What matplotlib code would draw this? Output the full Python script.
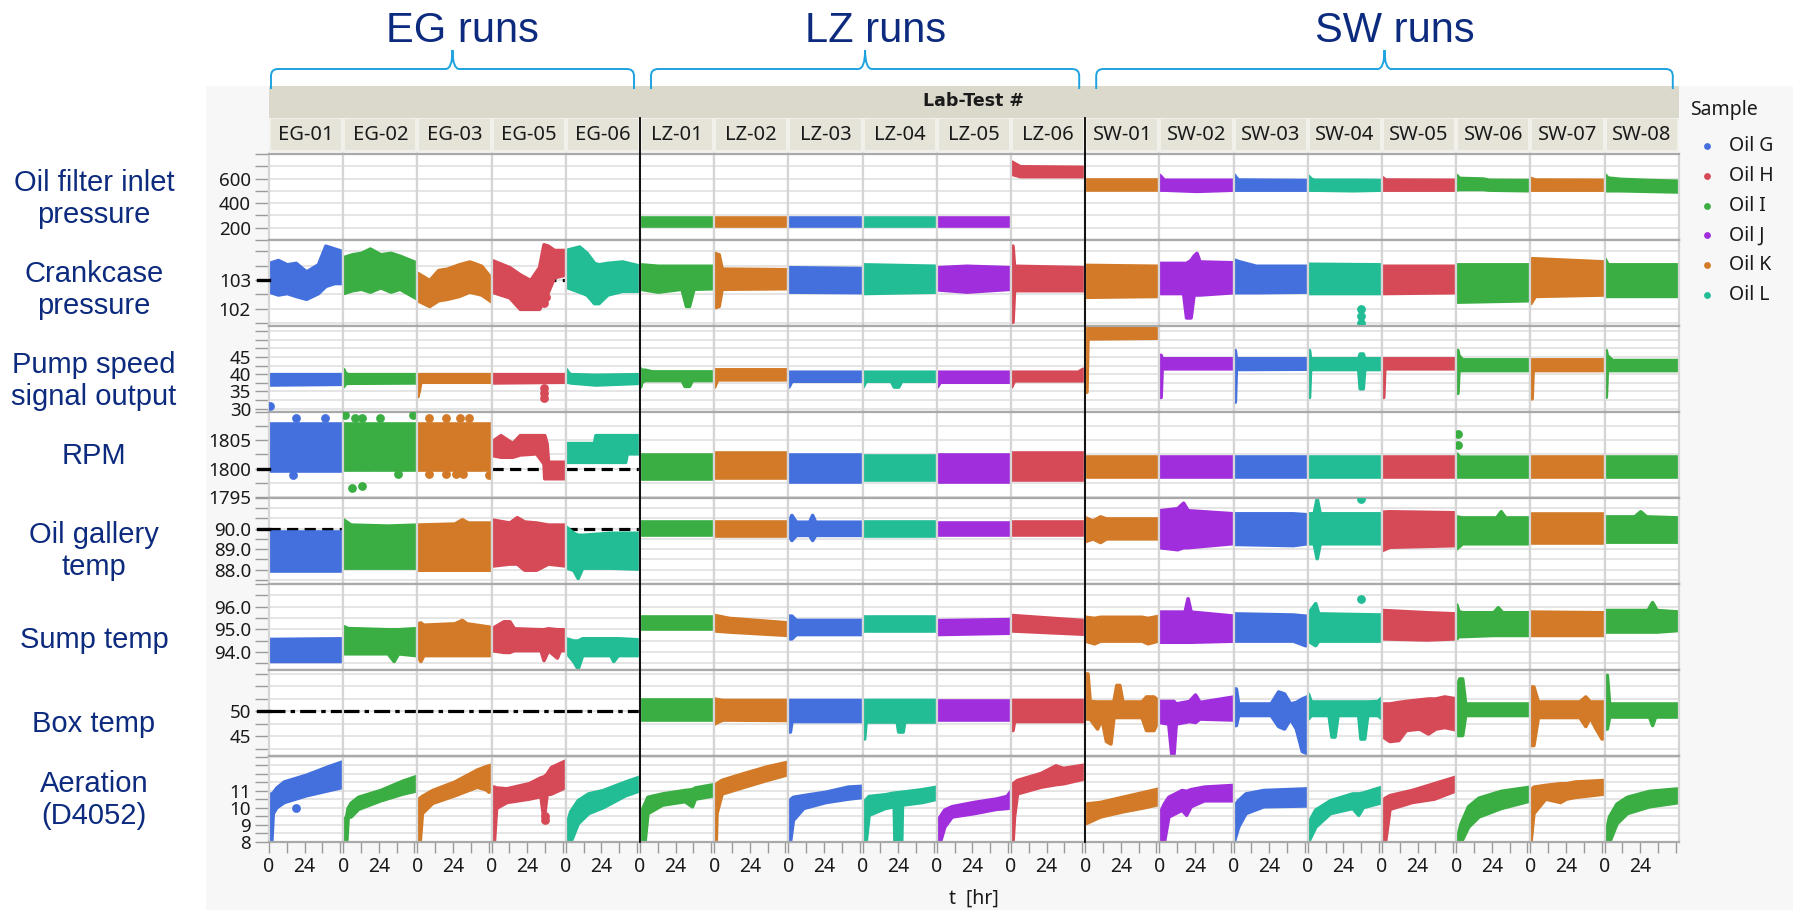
import matplotlib
matplotlib.use("Agg")
import matplotlib.pyplot as plt
from matplotlib.patches import Rectangle, PathPatch
from matplotlib.path import Path
from matplotlib.ticker import MultipleLocator, FuncFormatter

# === data ===
RUNS = ["EG-01", "EG-02", "EG-03", "EG-05", "EG-06",
        "LZ-01", "LZ-02", "LZ-03", "LZ-04", "LZ-05", "LZ-06",
        "SW-01", "SW-02", "SW-03", "SW-04", "SW-05", "SW-06", "SW-07", "SW-08"]
RUN_OILS = ["G", "I", "K", "H", "L",
            "I", "K", "G", "L", "J", "H",
            "K", "J", "G", "L", "H", "I", "K", "I"]
OIL_NAMES = ["Oil G", "Oil H", "Oil I", "Oil J", "Oil K", "Oil L"]
GROUPS = ["EG runs", "LZ runs", "SW runs"]
GROUP_SIZES = [5, 6, 8]
ROW_LABELS = ["Oil filter inlet\npressure", "Crankcase\npressure",
              "Pump speed\nsignal output", "RPM", "Oil gallery\ntemp",
              "Sump temp", "Box temp", "Aeration\n(D4052)"]

# each run: list of (t [hr], low, high) envelope knots of the point cloud
FILTER = [
    None, None, None, None, None,
    [(0, 215, 280), (50, 215, 280)],
    [(0, 215, 280), (50, 215, 280)],
    [(0, 215, 280), (50, 215, 280)],
    [(0, 215, 280), (50, 215, 280)],
    [(0, 215, 280), (50, 215, 280)],
    [(0, 640, 740), (3, 630, 720), (6, 620, 700), (50, 620, 695)],
    [(0, 510, 590), (50, 510, 590)],
    [(0, 510, 630), (1.5, 510, 610), (3, 510, 590), (25, 500, 590), (50, 510, 590)],
    [(0, 510, 635), (1.5, 510, 610), (3, 510, 592), (50, 510, 588)],
    [(0, 510, 625), (2, 510, 600), (4, 510, 590), (30, 505, 590), (50, 510, 588)],
    [(0, 510, 612), (2, 510, 592), (50, 510, 590)],
    [(0, 512, 630), (2, 515, 605), (18, 515, 600), (22, 510, 590), (50, 505, 588)],
    [(0, 510, 605), (3, 510, 592), (50, 510, 590)],
    [(0, 505, 635), (2, 505, 608), (10, 505, 598), (30, 500, 588), (50, 495, 582)],
]
FILTER_OUT = []

CRANKCASE = [
    [(0, 102.6, 103.6), (6, 102.5, 103.7), (12, 102.55, 103.55), (18, 102.45, 103.6),
     (25, 102.35, 103.3), (33, 102.55, 103.55), (38, 102.8, 104.2), (44, 102.9, 104.1),
     (50, 102.9, 104.0)],
    [(0, 102.55, 103.8), (6, 102.65, 103.9), (12, 102.7, 103.95), (18, 102.6, 104.1),
     (25, 102.75, 103.9), (32, 102.6, 103.95), (38, 102.7, 103.85), (50, 102.35, 103.6)],
    [(0, 102.3, 103.25), (8, 102.1, 103.0), (14, 102.3, 103.35), (20, 102.35, 103.4),
     (28, 102.45, 103.55), (35, 102.6, 103.65), (43, 102.5, 103.5), (50, 102.25, 103.05)],
    [(0, 102.6, 103.7), (12, 102.4, 103.45), (19, 102.0, 103.2), (26, 102.0, 103.0),
     (32, 102.0, 103.45), (35, 102.3, 104.25), (38, 102.6, 104.2), (42, 103.1, 104.05),
     (50, 103.2, 104.05)],
    [(0, 102.77, 104.05), (9, 102.6, 104.17), (14, 102.5, 103.95), (19, 102.2, 103.6),
     (22, 102.2, 103.55), (28, 102.5, 103.6), (38, 102.63, 103.65), (50, 102.63, 103.5)],
    [(0, 102.7, 103.55), (12, 102.6, 103.5), (28, 102.7, 103.5), (31, 102.1, 103.5),
     (33, 102.1, 103.5), (36, 102.7, 103.5), (50, 102.72, 103.5)],
    [(0, 102.05, 103.95), (3, 102.1, 103.9), (5, 102.7, 103.4), (50, 102.72, 103.38)],
    [(0, 102.6, 103.45), (50, 102.58, 103.42)],
    [(0, 102.55, 103.55), (50, 102.6, 103.5)],
    [(0, 102.68, 103.45), (20, 102.6, 103.5), (50, 102.7, 103.45)],
    [(0, 101.55, 104.2), (1, 101.55, 104.2), (2, 102.65, 103.5), (50, 102.65, 103.45)],
    [(0, 102.42, 103.53), (50, 102.45, 103.5)],
    [(0, 102.55, 103.6), (16, 102.55, 103.6), (18, 101.7, 103.6), (21, 101.7, 103.7),
     (23, 102.5, 103.85), (25, 102.5, 103.95), (27, 102.5, 103.65), (50, 102.58, 103.62)],
    [(0, 102.58, 103.72), (4, 102.58, 103.65), (15, 102.58, 103.5), (50, 102.6, 103.5)],
    [(0, 102.55, 103.57), (50, 102.55, 103.55)],
    [(0, 102.55, 103.5), (50, 102.58, 103.5)],
    [(0, 102.25, 103.55), (50, 102.3, 103.55)],
    [(0, 102.2, 103.76), (3, 102.45, 103.76), (50, 102.5, 103.65)],
    [(0, 102.45, 103.75), (2, 102.45, 103.55), (50, 102.45, 103.55)],
]
CRANKCASE_OUT = [(3, 35, 102.2), (3, 36.5, 102.4), (14, 36, 101.5), (14, 36, 101.75), (14, 36, 102.0)]

PUMP = [
    [(0, 37.0, 40.0), (50, 37.2, 40.0)],
    [(0, 36.5, 41.5), (1, 37.3, 40.5), (3, 37.5, 40.0), (50, 37.6, 40.0)],
    [(0, 33.6, 40.0), (1, 35.5, 40.0), (2, 37.8, 40.0), (50, 37.8, 40.0)],
    [(0, 37.6, 40.0), (50, 37.8, 40.0)],
    [(0, 37.8, 41.5), (1.5, 37.8, 40.5), (3, 37.6, 40.0), (20, 37.0, 39.8), (50, 37.5, 40.0)],
    [(0, 36.4, 41.7), (1, 37.8, 41.2), (3, 38.3, 41.3), (8, 38.3, 40.8), (28, 38.3, 40.8),
     (30, 36.6, 40.8), (33, 36.6, 40.8), (35, 38.3, 40.8), (50, 38.3, 40.8)],
    [(0, 36.4, 41.4), (1, 37.5, 41.4), (2, 38.5, 41.4), (50, 38.5, 41.4)],
    [(0, 36.4, 40.7), (1, 37.2, 40.7), (2, 38.1, 40.7), (50, 38.1, 40.7)],
    [(0, 36.4, 40.7), (2, 38.1, 40.7), (19, 38.1, 40.7), (21, 36.4, 40.7), (24, 36.4, 40.7),
     (26, 38.1, 40.7), (50, 38.1, 40.7)],
    [(0, 36.4, 40.7), (2, 37.8, 40.7), (50, 37.8, 40.7)],
    [(0, 36.4, 40.7), (2, 38.2, 40.7), (45, 38.2, 40.7), (48, 38.2, 41.5), (50, 38.2, 41.7)],
    [(0, 34.9, 53.8), (0.8, 34.9, 53.8), (1.5, 50.4, 53.8), (50, 50.6, 53.8)],
    [(0, 33.4, 45.6), (0.8, 33.4, 45.6), (1.5, 41.7, 44.6), (50, 41.7, 44.6)],
    [(0, 32.0, 47.0), (0.8, 32.0, 47.0), (1.5, 41.5, 44.6), (50, 41.6, 44.6)],
    [(0, 33.4, 47.0), (0.8, 33.4, 47.0), (1.5, 41.5, 44.6), (34, 41.5, 44.6), (35, 35.9, 46.0),
     (37, 35.9, 46.0), (38, 41.5, 44.6), (50, 41.5, 44.6)],
    [(0, 33.4, 44.6), (0.8, 33.4, 44.6), (1.5, 41.7, 44.6), (50, 41.7, 44.6)],
    [(0, 34.6, 47.0), (0.8, 34.6, 47.0), (1.5, 41.2, 45.5), (4, 41.2, 44.3), (50, 41.2, 44.3)],
    [(0, 33.0, 44.3), (0.8, 33.0, 44.3), (1.5, 41.2, 44.3), (50, 41.2, 44.3)],
    [(0, 33.45, 47.0), (0.8, 33.45, 47.0), (1.5, 41.2, 45.5), (5, 41.2, 44.1), (50, 41.2, 44.1)],
]
PUMP_OUT = [(0, 0.5, 30.7), (3, 35, 33.0), (3, 35, 34.5), (3, 35.5, 36.0)]

RPM = [
    [(0, 1799.6, 1807.9), (50, 1799.6, 1807.9)],
    [(0, 1799.7, 1807.9), (50, 1799.7, 1807.9)],
    [(0, 1799.7, 1807.9), (50, 1799.7, 1807.9)],
    [(0, 1802.4, 1804.8), (6, 1802.1, 1805.9), (14, 1802.1, 1804.5), (19, 1802.5, 1805.9),
     (30, 1802.7, 1805.9), (35, 1800.9, 1805.9), (35.5, 1798.3, 1805.9), (37, 1798.3, 1804.5),
     (38, 1798.3, 1801.2), (50, 1798.3, 1801.2)],
    [(0, 1801.2, 1804.5), (19, 1801.2, 1804.5), (20, 1801.2, 1805.9), (40, 1801.2, 1805.9),
     (41, 1802.7, 1805.9), (50, 1802.7, 1805.9)],
    [(0, 1798.1, 1802.4), (50, 1798.1, 1802.4)],
    [(0, 1798.3, 1802.7), (50, 1798.3, 1802.7)],
    [(0, 1797.7, 1802.4), (50, 1797.7, 1802.4)],
    [(0, 1798.0, 1802.2), (50, 1798.0, 1802.2)],
    [(0, 1797.7, 1802.4), (50, 1797.7, 1802.4)],
    [(0, 1797.9, 1802.7), (50, 1797.9, 1802.7)],
    [(0, 1798.6, 1802.1), (50, 1798.6, 1802.1)],
    [(0, 1798.6, 1802.1), (50, 1798.6, 1802.1)],
    [(0, 1798.6, 1802.1), (50, 1798.6, 1802.1)],
    [(0, 1798.6, 1802.1), (50, 1798.6, 1802.1)],
    [(0, 1798.6, 1802.1), (50, 1798.6, 1802.1)],
    [(0, 1798.6, 1802.7), (2, 1798.6, 1802.1), (50, 1798.6, 1802.1)],
    [(0, 1798.6, 1802.1), (50, 1798.6, 1802.1)],
    [(0, 1798.6, 1802.1), (50, 1798.6, 1802.1)],
]
RPM_OUT = [(0, 18, 1808.9), (0, 38, 1808.9), (0, 16, 1798.9),
           (1, 1, 1809.5), (1, 8, 1808.9), (1, 13, 1808.9), (1, 25, 1808.9), (1, 47, 1809.4),
           (1, 6, 1796.6), (1, 13, 1796.9), (1, 37, 1799.0),
           (2, 8, 1808.9), (2, 19, 1808.9), (2, 29, 1808.9), (2, 35, 1808.9),
           (2, 8, 1799.0), (2, 19, 1799.0), (2, 26, 1799.0), (2, 31, 1799.0), (2, 48, 1798.9),
           (16, 1, 1806.2), (16, 1, 1804.2)]

GALLERY = [
    [(0, 87.95, 89.85), (50, 87.95, 89.85)],
    [(0, 88.1, 90.45), (5, 88.1, 90.2), (30, 88.1, 90.15), (50, 88.1, 90.2)],
    [(0, 88.0, 90.2), (25, 88.0, 90.25), (30, 88.0, 90.46), (34, 88.0, 90.3), (50, 88.0, 90.3)],
    [(0, 88.2, 90.45), (12, 88.3, 90.3), (17, 88.3, 90.56), (22, 88.0, 90.35), (30, 88.0, 90.3),
     (38, 88.3, 90.2), (50, 88.2, 90.2)],
    [(0, 88.1, 90.1), (5, 88.0, 89.8), (8, 87.6, 89.7), (11, 88.1, 89.7), (30, 88.1, 89.8),
     (50, 88.05, 89.8)],
    [(0, 89.7, 90.34), (50, 89.7, 90.34)],
    [(0, 89.64, 90.34), (50, 89.64, 90.34)],
    [(0, 89.7, 90.34), (2, 89.45, 90.67), (5, 89.7, 90.34), (14, 89.7, 90.34), (16, 89.45, 90.67),
     (18, 89.7, 90.34), (50, 89.7, 90.34)],
    [(0, 89.64, 90.34), (50, 89.64, 90.34)],
    [(0, 89.7, 90.3), (50, 89.7, 90.3)],
    [(0, 89.7, 90.34), (50, 89.7, 90.34)],
    [(0, 89.4, 90.55), (5, 89.53, 90.4), (10, 89.35, 90.6), (14, 89.53, 90.5), (50, 89.53, 90.5)],
    [(0, 89.1, 90.9), (12, 89.0, 91.0), (16, 89.1, 91.27), (19, 89.1, 90.9), (50, 89.3, 90.75)],
    [(0, 89.26, 90.75), (40, 89.2, 90.75), (50, 89.3, 90.7)],
    [(0, 89.29, 90.75), (4, 89.29, 90.75), (6, 88.56, 91.48), (8, 89.29, 90.75), (50, 89.29, 90.75)],
    [(0, 88.96, 90.83), (5, 89.12, 90.85), (50, 89.2, 90.8)],
    [(0, 89.04, 90.6), (4, 89.29, 90.55), (27, 89.29, 90.55), (30, 89.29, 90.85), (33, 89.29, 90.55),
     (50, 89.29, 90.55)],
    [(0, 89.29, 90.7), (50, 89.29, 90.7)],
    [(0, 89.37, 90.6), (20, 89.37, 90.6), (24, 89.37, 90.85), (28, 89.37, 90.6), (50, 89.37, 90.55)],
]
GALLERY_OUT = [(14, 36, 91.43)]

SUMP = [
    [(0, 93.6, 94.57), (50, 93.6, 94.6)],
    [(0, 93.94, 95.14), (3, 93.94, 95.05), (30, 93.94, 95.0), (34, 93.6, 95.0), (37, 93.94, 95.0),
     (50, 93.85, 95.05)],
    [(0, 93.86, 95.26), (2, 93.6, 95.3), (4, 93.86, 95.2), (25, 93.86, 95.26), (30, 93.86, 95.41),
     (33, 93.86, 95.26), (50, 93.86, 95.1)],
    [(0, 94.08, 95.04), (8, 94.0, 95.35), (12, 94.0, 95.35), (15, 94.08, 95.04), (33, 94.08, 95.0),
     (35, 93.64, 95.0), (38, 94.08, 95.04), (44, 93.75, 95.0), (46, 94.08, 95.0), (50, 94.08, 95.0)],
    [(0, 94.0, 94.6), (5, 93.6, 94.5), (8, 93.27, 94.5), (11, 93.86, 94.6), (30, 93.86, 94.6),
     (32, 93.6, 94.6), (35, 93.86, 94.6), (50, 93.86, 94.55)],
    [(0, 95.0, 95.56), (50, 95.0, 95.56)],
    [(0, 94.95, 95.63), (10, 94.9, 95.5), (50, 94.75, 95.3)],
    [(0, 94.6, 95.6), (2, 94.6, 95.6), (5, 94.79, 95.41), (50, 94.79, 95.41)],
    [(0, 94.94, 95.53), (50, 94.94, 95.53)],
    [(0, 94.79, 95.4), (50, 94.85, 95.45)],
    [(0, 94.95, 95.63), (50, 94.8, 95.4)],
    [(0, 94.5, 95.55), (6, 94.38, 95.5), (10, 94.5, 95.55), (38, 94.5, 95.55), (42, 94.38, 95.5),
     (50, 94.52, 95.6)],
    [(0, 94.45, 95.78), (17, 94.45, 95.78), (19, 94.45, 96.37), (21, 94.45, 95.78), (50, 94.5, 95.6)],
    [(0, 94.5, 95.7), (40, 94.5, 95.65), (48, 94.3, 95.6), (50, 94.3, 95.6)],
    [(0, 94.5, 95.7), (5, 94.3, 96.15), (7, 94.5, 95.7), (50, 94.5, 95.65)],
    [(0, 94.6, 95.85), (30, 94.55, 95.75), (50, 94.6, 95.7)],
    [(0, 94.6, 96.1), (1.5, 94.7, 95.8), (4, 94.7, 95.75), (25, 94.75, 95.75), (28, 94.75, 95.97),
     (31, 94.75, 95.75), (50, 94.75, 95.75)],
    [(0, 94.75, 95.78), (50, 94.75, 95.75)],
    [(0, 94.9, 95.85), (29, 94.9, 95.85), (32, 94.9, 96.2), (35, 94.9, 95.85), (50, 94.97, 95.78)],
]
SUMP_OUT = [(14, 36, 96.32)]

BOX = [
    None, None, None, None, None,
    [(0, 48.3, 52.2), (50, 48.3, 52.2)],
    [(0, 47.5, 52.5), (3, 48.0, 52.3), (6, 48.3, 52.2), (50, 48.2, 52.2)],
    [(0, 45.9, 52.2), (1, 45.9, 52.2), (2, 48.0, 52.2), (50, 48.0, 52.2)],
    [(0, 44.5, 52.2), (1, 44.5, 52.2), (2, 47.9, 52.2), (23, 47.9, 52.2), (24, 45.9, 52.2),
     (27, 45.9, 52.2), (28, 47.9, 52.2), (50, 47.9, 52.2)],
    [(0, 48.2, 52.1), (50, 48.2, 52.1)],
    [(0, 46.2, 52.2), (1, 46.2, 52.2), (2, 48.0, 52.2), (50, 48.0, 52.2)],
    [(0, 48.5, 57.5), (1.5, 48.5, 57.5), (3, 48.5, 52.0), (8, 46.5, 51.9), (11, 48.5, 51.9),
     (14, 44.0, 51.9), (17, 43.5, 51.9), (19, 48.8, 51.9), (21, 48.8, 55.2), (23, 48.8, 55.2),
     (25, 48.8, 51.9), (38, 48.8, 51.9), (41, 46.2, 52.9), (46, 46.2, 52.9), (50, 48.8, 51.9)],
    [(0, 47.8, 52.0), (6, 47.5, 52.0), (8, 41.5, 52.0), (9.5, 41.5, 52.0), (11, 47.5, 51.5),
     (20, 48.0, 52.0), (24, 47.8, 53.3), (27, 48.5, 51.8), (50, 48.3, 52.9)],
    [(0, 47.2, 54.5), (1.5, 47.2, 54.5), (3, 49.2, 51.5), (25, 49.2, 51.5), (30, 47.0, 53.9),
     (34, 46.5, 53.5), (38, 48.5, 51.5), (42, 46.5, 51.8), (46, 42.0, 52.5), (50, 41.5, 53.0)],
    [(0, 48.5, 53.5), (2, 49.2, 51.9), (14, 49.2, 51.9), (16, 44.9, 51.9), (18, 44.9, 51.9),
     (20, 49.2, 51.9), (34, 49.2, 51.9), (35.5, 44.5, 51.9), (38, 44.5, 51.9), (40, 49.2, 51.9),
     (47, 49.2, 52.0), (50, 48.5, 52.8)],
    [(0, 45.0, 51.5), (5, 44.0, 51.5), (11, 44.2, 51.8), (16, 46.2, 52.0), (25, 46.5, 52.3),
     (31, 45.5, 52.5), (36, 46.5, 52.5), (42, 46.8, 52.9), (50, 46.3, 52.5)],
    [(0, 45.2, 54.5), (2, 45.2, 56.5), (4, 45.2, 56.5), (6, 49.2, 51.5), (50, 49.2, 51.5)],
    [(0, 43.2, 54.9), (2, 43.2, 54.9), (5, 48.8, 51.9), (33, 48.8, 51.9), (37, 47.0, 52.9),
     (40, 48.8, 51.9), (44, 46.5, 51.9), (48, 44.5, 51.9), (50, 44.8, 51.9)],
    [(0, 46.5, 57.2), (1.5, 46.5, 57.2), (3, 48.9, 51.5), (30, 48.9, 51.5), (32, 47.2, 51.5),
     (34, 48.9, 51.5), (50, 48.9, 51.5)],
]
BOX_OUT = []

AERATION = [
    [(0, 8.0, 10.8), (1.5, 8.0, 10.85), (2.5, 9.7, 10.9), (5, 10.05, 11.2), (10, 10.35, 11.55),
     (25, 10.75, 11.95), (40, 11.05, 12.45), (50, 11.25, 12.75)],
    [(0, 8.0, 9.3), (2, 8.0, 9.5), (3, 9.5, 10.0), (5, 9.5, 10.3), (10, 9.95, 10.65),
     (25, 10.45, 11.05), (40, 10.85, 11.6), (50, 11.05, 11.9)],
    [(0, 8.0, 10.45), (1.5, 8.0, 10.6), (3, 9.7, 10.7), (10, 10.3, 11.05), (25, 10.75, 11.55),
     (40, 11.25, 12.25), (46, 11.1, 12.45), (48, 10.95, 12.5), (50, 11.3, 12.55)],
    [(0, 8.0, 11.25), (1.5, 8.0, 11.25), (3, 10.0, 11.2), (10, 10.35, 11.15), (25, 10.55, 11.45),
     (33, 10.7, 11.8), (35, 9.3, 11.85), (37, 10.8, 12.0), (40, 10.85, 12.4), (50, 11.25, 12.8)],
    [(0, 8.0, 8.9), (3, 8.0, 9.8), (8, 9.1, 10.45), (15, 9.7, 10.85), (25, 10.05, 11.05),
     (40, 10.75, 11.55), (50, 11.05, 11.85)],
    [(0, 8.0, 9.7), (3, 8.0, 10.25), (5, 9.7, 10.65), (15, 10.2, 10.85), (30, 10.4, 11.05),
     (35, 10.1, 11.1), (37, 10.55, 11.2), (50, 10.75, 11.4)],
    [(0, 8.0, 11.25), (1, 8.0, 11.4), (1.5, 9.7, 11.45), (5, 10.85, 11.65), (20, 11.25, 12.05),
     (35, 11.64, 12.43), (50, 12.0, 12.72)],
    [(0, 8.0, 10.4), (1, 8.0, 10.5), (3, 9.3, 10.65), (10, 10.0, 10.75), (25, 10.35, 10.95),
     (40, 10.55, 11.25), (50, 10.65, 11.3)],
    [(0, 8.0, 10.3), (2, 8.0, 10.5), (4, 9.6, 10.7), (15, 10.0, 10.8), (21, 10.1, 10.9),
     (21.5, 8.0, 10.9), (26, 8.0, 10.95), (26.5, 10.2, 10.95), (40, 10.35, 11.1), (50, 10.55, 11.25)],
    [(0, 8.0, 9.3), (2, 8.0, 9.5), (5, 8.9, 9.9), (10, 9.5, 10.1), (25, 9.7, 10.35),
     (40, 9.95, 10.55), (47, 10.0, 10.7), (50, 10.05, 11.05)],
    [(0, 8.0, 11.25), (1, 8.0, 11.45), (2, 9.5, 11.5), (4, 10.86, 11.64), (20, 11.25, 12.05),
     (30, 11.4, 12.5), (35, 11.45, 12.35), (50, 11.75, 12.55)],
    [(0, 9.1, 10.25), (10, 9.5, 10.35), (25, 9.8, 10.65), (40, 10.05, 10.95), (50, 10.25, 11.15)],
    [(0, 8.0, 9.7), (3, 8.0, 10.25), (6, 9.5, 10.65), (15, 9.9, 11.05), (18, 9.6, 11.0),
     (21, 10.1, 11.1), (30, 10.45, 11.25), (50, 10.45, 11.35)],
    [(0, 8.0, 10.1), (3, 8.9, 10.45), (8, 9.7, 10.85), (20, 10.1, 11.05), (50, 10.15, 11.15)],
    [(0, 8.0, 9.1), (5, 8.9, 9.9), (15, 9.7, 10.45), (30, 10.0, 10.85), (34, 9.6, 10.85),
     (37, 10.05, 10.9), (50, 10.35, 11.25)],
    [(0, 8.0, 10.45), (2, 8.0, 10.6), (5, 9.95, 10.75), (20, 10.35, 11.05), (35, 10.55, 11.45),
     (50, 11.05, 11.85)],
    [(0, 8.0, 8.1), (3, 8.0, 9.1), (8, 8.9, 10.1), (15, 9.5, 10.6), (30, 10.0, 11.0),
     (50, 10.45, 11.25)],
    [(0, 8.0, 11.05), (2, 9.7, 11.25), (10, 10.55, 11.35), (20, 10.35, 11.45), (24, 10.55, 11.45),
     (30, 10.65, 11.55), (50, 10.85, 11.64)],
    [(0, 8.0, 8.3), (3, 8.0, 9.5), (8, 9.1, 10.25), (15, 9.7, 10.65), (30, 10.1, 11.0),
     (50, 10.35, 11.15)],
]
AERATION_OUT = [(0, 18, 10.0), (3, 36, 9.3), (3, 36, 9.55)]

ROW_DATA = [FILTER, CRANKCASE, PUMP, RPM, GALLERY, SUMP, BOX, AERATION]
ROW_OUTLIERS = [FILTER_OUT, CRANKCASE_OUT, PUMP_OUT, RPM_OUT, GALLERY_OUT, SUMP_OUT, BOX_OUT, AERATION_OUT]
ROW_TICKS = [[200, 400, 600], [102, 103], [30, 35, 40, 45], [1795, 1800, 1805],
             [88.0, 89.0, 90.0], [94.0, 95.0, 96.0], [45, 50], [8, 9, 10, 11]]
ROW_REFS = [None, 103, None, 1800, 90.0, None, 50, None]  # spec lines on EG runs
X_TICKS = [0, 12, 24, 36, 48]
X_LABELS = ["0", "", "24", "", ""]

# === layout and styles ===
W, H = 1793, 910
PLOT_X0, PLOT_Y0 = 269, 154
COL_W, ROW_H = 74.2, 86
ROW_LIMITS = [(100, 800), (101.4, 104.4), (29, 54), (1794.8, 1810),
              (87.3, 91.5), (93.2, 97.0), (41, 58.2), (8, 13.05)]
ROW_STEPS = [100, 0.5, 2.5, 2.5, 0.5, 0.5, 2.5, 0.5]
ROW_FMT = ["%d", "%d", "%d", "%d", "%.1f", "%.1f", "%d", "%d"]
ROW_LABEL_Y = [199, 290, 381, 456, 551, 640, 724, 800]
OIL_COLORS = {"G": "#4470DE", "H": "#D64A58", "I": "#3AAE43",
              "J": "#A02EDC", "K": "#D27A28", "L": "#22BC95"}
NAVY = "#0D2B7E"
BRACE = "#1FA3DF"
UI_FONT = "Noto Sans"
TITLE_FONT = "Liberation Sans"

fig = plt.figure(figsize=(W / 100, H / 100), dpi=100)


def px_axes(x, y, w, h, z):
    return fig.add_axes([x / W, 1 - (y + h) / H, w / W, h / H], zorder=z)


bg = px_axes(0, 0, W, H, 0)
fg = px_axes(0, 0, W, H, 20)
for a in (bg, fg):
    a.set_xlim(0, W)
    a.set_ylim(H, 0)
    a.axis("off")

n_cols = len(RUNS)
plot_x1 = PLOT_X0 + n_cols * COL_W
plot_y1 = PLOT_Y0 + len(ROW_DATA) * ROW_H

# report background, header strip and run labels
bg.add_patch(Rectangle((206, 86), W - 206, H - 86, color="#F7F7F7", lw=0))
bg.add_patch(Rectangle((PLOT_X0, 86), n_cols * COL_W, 32, color="#DBD9CB", lw=0))
bg.add_patch(Rectangle((PLOT_X0, 118), n_cols * COL_W, 34, color="#F1F0EB", lw=0))
bg.text((PLOT_X0 + plot_x1) / 2, 101, "Lab-Test #", ha="center", va="center",
        fontsize=12.5, fontweight="bold", family="DejaVu Sans", color="#1A1A1A")
for c, run in enumerate(RUNS):
    x = PLOT_X0 + c * COL_W
    bg.add_patch(Rectangle((x + 2, 119), COL_W - 4, 31, color="#E6E4D9", lw=0))
    bg.text(x + COL_W / 2, 135, run, ha="center", va="center", fontsize=14.5,
            family=UI_FONT, color="#1A1A1A")

# row labels
for label, y in zip(ROW_LABELS, ROW_LABEL_Y):
    bg.text(94, y, label, ha="center", va="center", fontsize=21, color=NAVY,
            family=TITLE_FONT, linespacing=1.2)

# panels
for r, series in enumerate(ROW_DATA):
    lo_lim, hi_lim = ROW_LIMITS[r]
    ticks = ROW_TICKS[r]
    fmt = ROW_FMT[r]
    for c, run in enumerate(RUNS):
        ax = px_axes(PLOT_X0 + c * COL_W, PLOT_Y0 + r * ROW_H, COL_W, ROW_H, 5)
        ax.set_facecolor("white")
        ax.set_xlim(0, 50)
        ax.set_ylim(lo_lim, hi_lim)
        ax.yaxis.set_major_locator(MultipleLocator(ROW_STEPS[r]))
        ax.grid(axis="y", color="#E3E3E3", lw=1.3)
        ax.set_axisbelow(True)
        for side in ("left", "right"):
            ax.spines[side].set_color("#D5D5D5")
            ax.spines[side].set_linewidth(1.6)
        for side in ("top", "bottom"):
            ax.spines[side].set_color("#A9A9A9")
            ax.spines[side].set_linewidth(1.6)

        if c == 0:
            ax.yaxis.set_major_formatter(FuncFormatter(
                lambda v, p, t=ticks, f=fmt: f % v if any(abs(v - k) < 1e-6 for k in t) else ""))
            ax.tick_params(axis="y", length=10, width=1, color="#9A9A9A", labelsize=13.5,
                           pad=3, labelcolor="#1A1A1A")
            for lab in ax.get_yticklabels():
                lab.set_family(UI_FONT)
        else:
            ax.tick_params(axis="y", length=0, labelleft=False)

        ax.set_xticks(X_TICKS)
        if r == len(ROW_DATA) - 1:
            ax.set_xticklabels(X_LABELS, family=UI_FONT)
            ax.tick_params(axis="x", length=8, width=1, color="#9A9A9A", labelsize=14,
                           pad=3, labelcolor="#1A1A1A")
        else:
            ax.tick_params(axis="x", length=0, labelbottom=False)

        ref = ROW_REFS[r]
        if ref is not None and run.startswith("EG"):
            dash = (0, (5, 1.6, 1.4, 1.6)) if r == 6 else (0, (3.5, 2))
            ax.axhline(ref, color="black", lw=2.3, ls=dash, zorder=1.5)
            if c == 0:
                ax.plot([-0.15, 0], [ref, ref], transform=ax.get_yaxis_transform(),
                        color="black", lw=2.4, clip_on=False, zorder=6)

        color = OIL_COLORS[RUN_OILS[c]]
        knots = series[c]
        if knots:
            t = [k[0] for k in knots]
            lo = [k[1] for k in knots]
            hi = [k[2] for k in knots]
            ax.fill_between(t, lo, hi, facecolor=color, edgecolor=color, lw=2.6,
                            joinstyle="round", zorder=2)
        pts = [(p[1], p[2]) for p in ROW_OUTLIERS[r] if p[0] == c]
        if pts:
            ax.scatter([p[0] for p in pts], [p[1] for p in pts], s=40, color=color,
                       lw=0, zorder=3)

# group separators
start = 0
for size in GROUP_SIZES[:-1]:
    start += size
    x = PLOT_X0 + start * COL_W
    fg.plot([x, x], [118, plot_y1], color="black", lw=1.3)


def brace(x0, x1, y_top=69, y_bot=89, tip=50, r=7):
    xc = (x0 + x1) / 2
    verts = [(x0, y_bot), (x0, y_top + r), (x0, y_top), (x0 + r, y_top),
             (xc - r, y_top), (xc, y_top), (xc, tip), (xc, y_top), (xc + r, y_top),
             (x1 - r, y_top), (x1, y_top), (x1, y_top + r), (x1, y_bot)]
    codes = [Path.MOVETO, Path.LINETO, Path.CURVE3, Path.CURVE3,
             Path.LINETO, Path.CURVE3, Path.CURVE3, Path.CURVE3, Path.CURVE3,
             Path.LINETO, Path.CURVE3, Path.CURVE3, Path.LINETO]
    fg.add_patch(PathPatch(Path(verts, codes), fill=False, edgecolor=BRACE, lw=1.4))
    return xc


start = 0
for name, size in zip(GROUPS, GROUP_SIZES):
    x0 = PLOT_X0 + start * COL_W + (2 if start == 0 else 11)
    x1 = PLOT_X0 + (start + size) * COL_W - 6
    xc = brace(x0, x1)
    fg.text(xc + 10, 42, name, ha="center", va="baseline", fontsize=30,
            color=NAVY, family=TITLE_FONT)
    start += size

# axis title
bg.text((PLOT_X0 + plot_x1) / 2, 899, "t  [hr]", ha="center", va="center",
        fontsize=14, family=UI_FONT, color="#1A1A1A")

# legend
bg.text(1690, 110, "Sample", ha="left", va="center", fontsize=14, family=UI_FONT,
        color="#1A1A1A")
for i, name in enumerate(OIL_NAMES):
    y = 146 + i * 29.8
    fg.scatter([1707], [y], s=24, color=OIL_COLORS[name[-1]], lw=0)
    bg.text(1729, y, name, ha="left", va="center", fontsize=14, family=UI_FONT,
            color="#1A1A1A")

fig.savefig("out.png", dpi=100)
